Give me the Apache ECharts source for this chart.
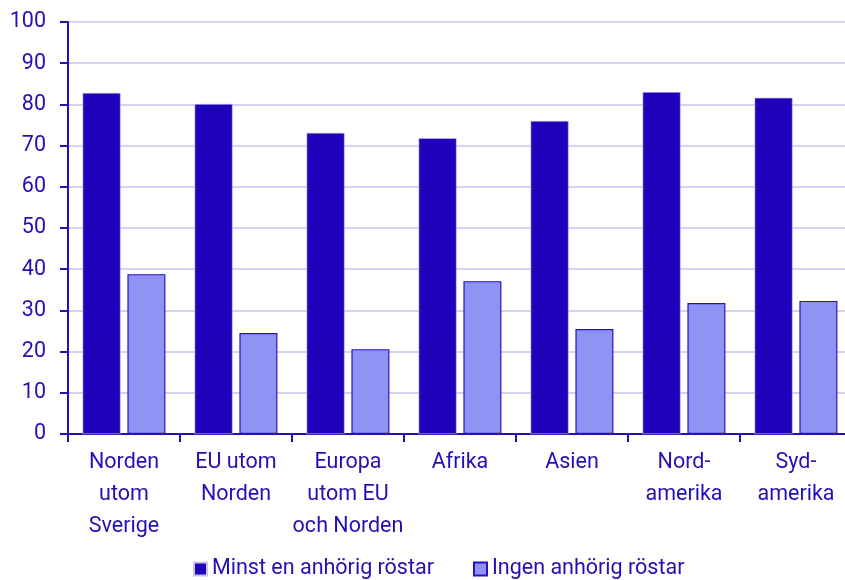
<!DOCTYPE html>
<html>
<head>
<meta charset="utf-8">
<script src="https://cdn.jsdelivr.net/npm/echarts@6/dist/echarts.min.js"></script>
<style>
  html, body { margin: 0; padding: 0; background: #ffffff; overflow: hidden; }
  #chart { width: 852px; height: 580px; }
</style>
</head>
<body>
<div id="chart"></div>
<script>
// Regions of birth
const categories = [
  'Norden\nutom\nSverige',
  'EU utom\nNorden',
  'Europa\nutom EU\noch Norden',
  'Afrika',
  'Asien',
  'Nord-\namerika',
  'Syd-\namerika'
];

// Share (%) voting, by whether at least one relative votes
const minstEnAnhorig = [82.8, 80.1, 73.1, 71.8, 76.0, 83.0, 81.6];
const ingenAnhorig   = [38.8, 24.5, 20.6, 37.1, 25.5, 31.8, 32.3];

const yTicks = { min: 0, max: 100, interval: 10 };

const seriesNames = ['Minst en anhörig röstar', 'Ingen anhörig röstar'];

const ink = '#2410b4';
const dark = '#2000b8';
const light = '#8f94f4';
const fontSize = 21.5;

const chart = echarts.init(document.getElementById('chart'), null, { renderer: 'canvas' });

chart.setOption({
  animation: false,
  textStyle: { fontFamily: 'Roboto' },
  grid: { left: 68, top: 22, right: 0, height: 412, containLabel: false },
  legend: {
    left: 193,
    top: 558,
    padding: 0,
    icon: 'rect',
    itemWidth: 13,
    itemHeight: 13,
    itemGap: 39,
    textStyle: { color: ink, fontSize: fontSize, fontFamily: 'Roboto' },
    data: seriesNames
  },
  xAxis: {
    type: 'category',
    data: categories,
    axisLine: { lineStyle: { color: ink, width: 2 } },
    axisTick: { show: true, length: 8, lineStyle: { color: ink, width: 2 } },
    axisLabel: {
      color: ink,
      fontSize: fontSize,
      lineHeight: 32,
      margin: 13,
      interval: 0,
      align: 'center'
    }
  },
  yAxis: {
    type: 'value',
    min: yTicks.min,
    max: yTicks.max,
    interval: yTicks.interval,
    axisLine: { show: true, lineStyle: { color: ink, width: 2 } },
    axisTick: { show: true, length: 8, lineStyle: { color: ink, width: 2 } },
    axisLabel: { color: ink, fontSize: fontSize, margin: 22 },
    splitLine: { show: true, lineStyle: { color: '#d4d4f2', width: 2 } }
  },
  series: [
    {
      name: seriesNames[0],
      type: 'bar',
      data: minstEnAnhorig,
      barWidth: 38,
      barGap: '18%',
      itemStyle: { color: dark, borderColor: '#c8c4ee', borderWidth: 0.6 }
    },
    {
      name: seriesNames[1],
      type: 'bar',
      data: ingenAnhorig,
      barWidth: 38,
      itemStyle: { color: light, borderColor: '#2a10c0', borderWidth: 1.2 }
    }
  ]
});
</script>
</body>
</html>
